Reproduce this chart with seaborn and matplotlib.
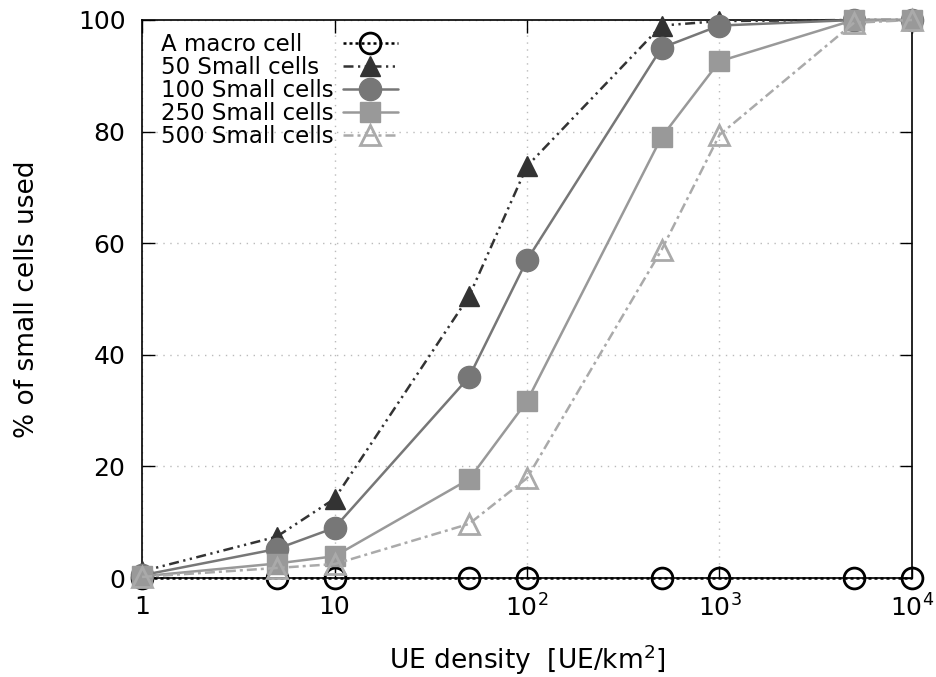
import matplotlib
matplotlib.use("Agg")
import matplotlib.pyplot as plt
import seaborn as sns
import pandas as pd

# UE density values (UE/km^2)
density = [1, 5, 10, 50, 100, 500, 1000, 5000, 10000]

# Percentage of small cells in use for each deployment
macro_cell = [0, 0, 0, 0, 0, 0, 0, 0, 0]
small_50 = [1.2, 7.4, 14.2, 50.5, 73.8, 99.0, 99.8, 100, 100]
small_100 = [0.5, 5.2, 9.0, 36.0, 57.0, 95.0, 99.0, 100, 100]
small_250 = [0.3, 2.6, 3.9, 17.7, 31.7, 79.0, 92.6, 100, 100]
small_500 = [0.2, 1.8, 2.5, 9.7, 17.9, 58.8, 79.4, 99.5, 100]

series_labels = ["A macro cell", "50 Small cells", "100 Small cells",
                 "250 Small cells", "500 Small cells"]
x_ticks = [1, 10, 100, 1000, 10000]
x_ticklabels = ["1", "10", r"$10^2$", r"$10^3$", r"$10^4$"]
y_ticks = [0, 20, 40, 60, 80, 100]

sns.set_theme(style="ticks")
plt.rcParams["font.family"] = ["DejaVu Sans"]
plt.rcParams["mathtext.fontset"] = "dejavusans"
plt.rcParams["text.color"] = "black"
plt.rcParams["axes.labelcolor"] = "black"

rows = []
for label, vals in zip(series_labels,
                       [macro_cell, small_50, small_100, small_250, small_500]):
    for d, v in zip(density, vals):
        rows.append({"density": d, "pct": v, "series": label})
df = pd.DataFrame(rows)

styles = {
    "A macro cell": dict(color="black", marker="o", mfc="none", mec="black",
                         mew=2.0, ms=15, ls=(0, (1.2, 1.2))),
    "50 Small cells": dict(color="#333333", marker="^", mfc="#333333",
                           mec="#333333", ms=15,
                           ls=(0, (4, 1.8, 0.9, 1.8, 0.9, 1.8))),
    "100 Small cells": dict(color="#777777", marker="o", mfc="#777777",
                            mec="#777777", ms=16, ls="-"),
    "250 Small cells": dict(color="#999999", marker="s", mfc="#999999",
                            mec="#999999", ms=15, ls="-"),
    "500 Small cells": dict(color="#aaaaaa", marker="^", mfc="none",
                            mec="#aaaaaa", mew=2.0, ms=14,
                            ls=(0, (4, 1.6, 1.2, 1.6))),
}

fig = plt.figure(figsize=(9.37, 6.77), dpi=100)
ax = fig.add_axes([0.1516, 0.1462, 0.8217, 0.8243])

for i, label in enumerate(series_labels):
    st = styles[label]
    sub = df[df["series"] == label]
    sns.lineplot(data=sub, x="density", y="pct", ax=ax, label=label,
                 color=st["color"], marker=st["marker"],
                 markerfacecolor=st["mfc"], markeredgecolor=st["mec"],
                 markeredgewidth=st.get("mew", 1.0), markersize=st["ms"],
                 linestyle=st["ls"], linewidth=1.8, clip_on=False,
                 zorder=3 + i, errorbar=None)

ax.set_xscale("log")
ax.set_xlim(1, 10000)
ax.set_ylim(0, 100)
ax.set_xticks(x_ticks)
ax.set_xticklabels(x_ticklabels)
ax.set_yticks(y_ticks)
ax.minorticks_off()

ax.grid(True, which="major", color="#bbbbbb", linestyle=(0, (1, 4)),
        linewidth=1.0)
for side in ["top", "right", "left", "bottom"]:
    ax.spines[side].set_visible(True)
    ax.spines[side].set_color("black")
    ax.spines[side].set_linewidth(1.2)

ax.tick_params(axis="both", which="major", direction="in", length=9,
               width=1.0, top=True, right=True, labelsize=18, pad=12,
               colors="black")

ax.set_xlabel(r"UE density  [UE/km$^2$]", fontsize=19, labelpad=15)
ax.set_ylabel("% of small cells used", fontsize=19, labelpad=27)

leg_fs = 16.5
leg = ax.legend(loc="upper left", bbox_to_anchor=(0.008, 1.0), frameon=False,
                markerfirst=False, fontsize=leg_fs, handlelength=2.4,
                labelspacing=0.0, borderaxespad=0.15, handletextpad=0.4)

# Left-align the legend labels while keeping the keys in one column:
# widen the gap between each label and its key to the longest label.
fig.canvas.draw()
renderer = fig.canvas.get_renderer()
px_per_pt = fig.dpi / 72.0
texts = leg.get_texts()
widths = [t.get_window_extent(renderer).width / px_per_pt for t in texts]
wmax = max(widths)
column = leg._legend_handle_box.get_children()[0]
for item, w in zip(column.get_children(), widths):
    item.sep = 0.4 * leg_fs + (wmax - w)

fig.savefig("out.png", dpi=100)
